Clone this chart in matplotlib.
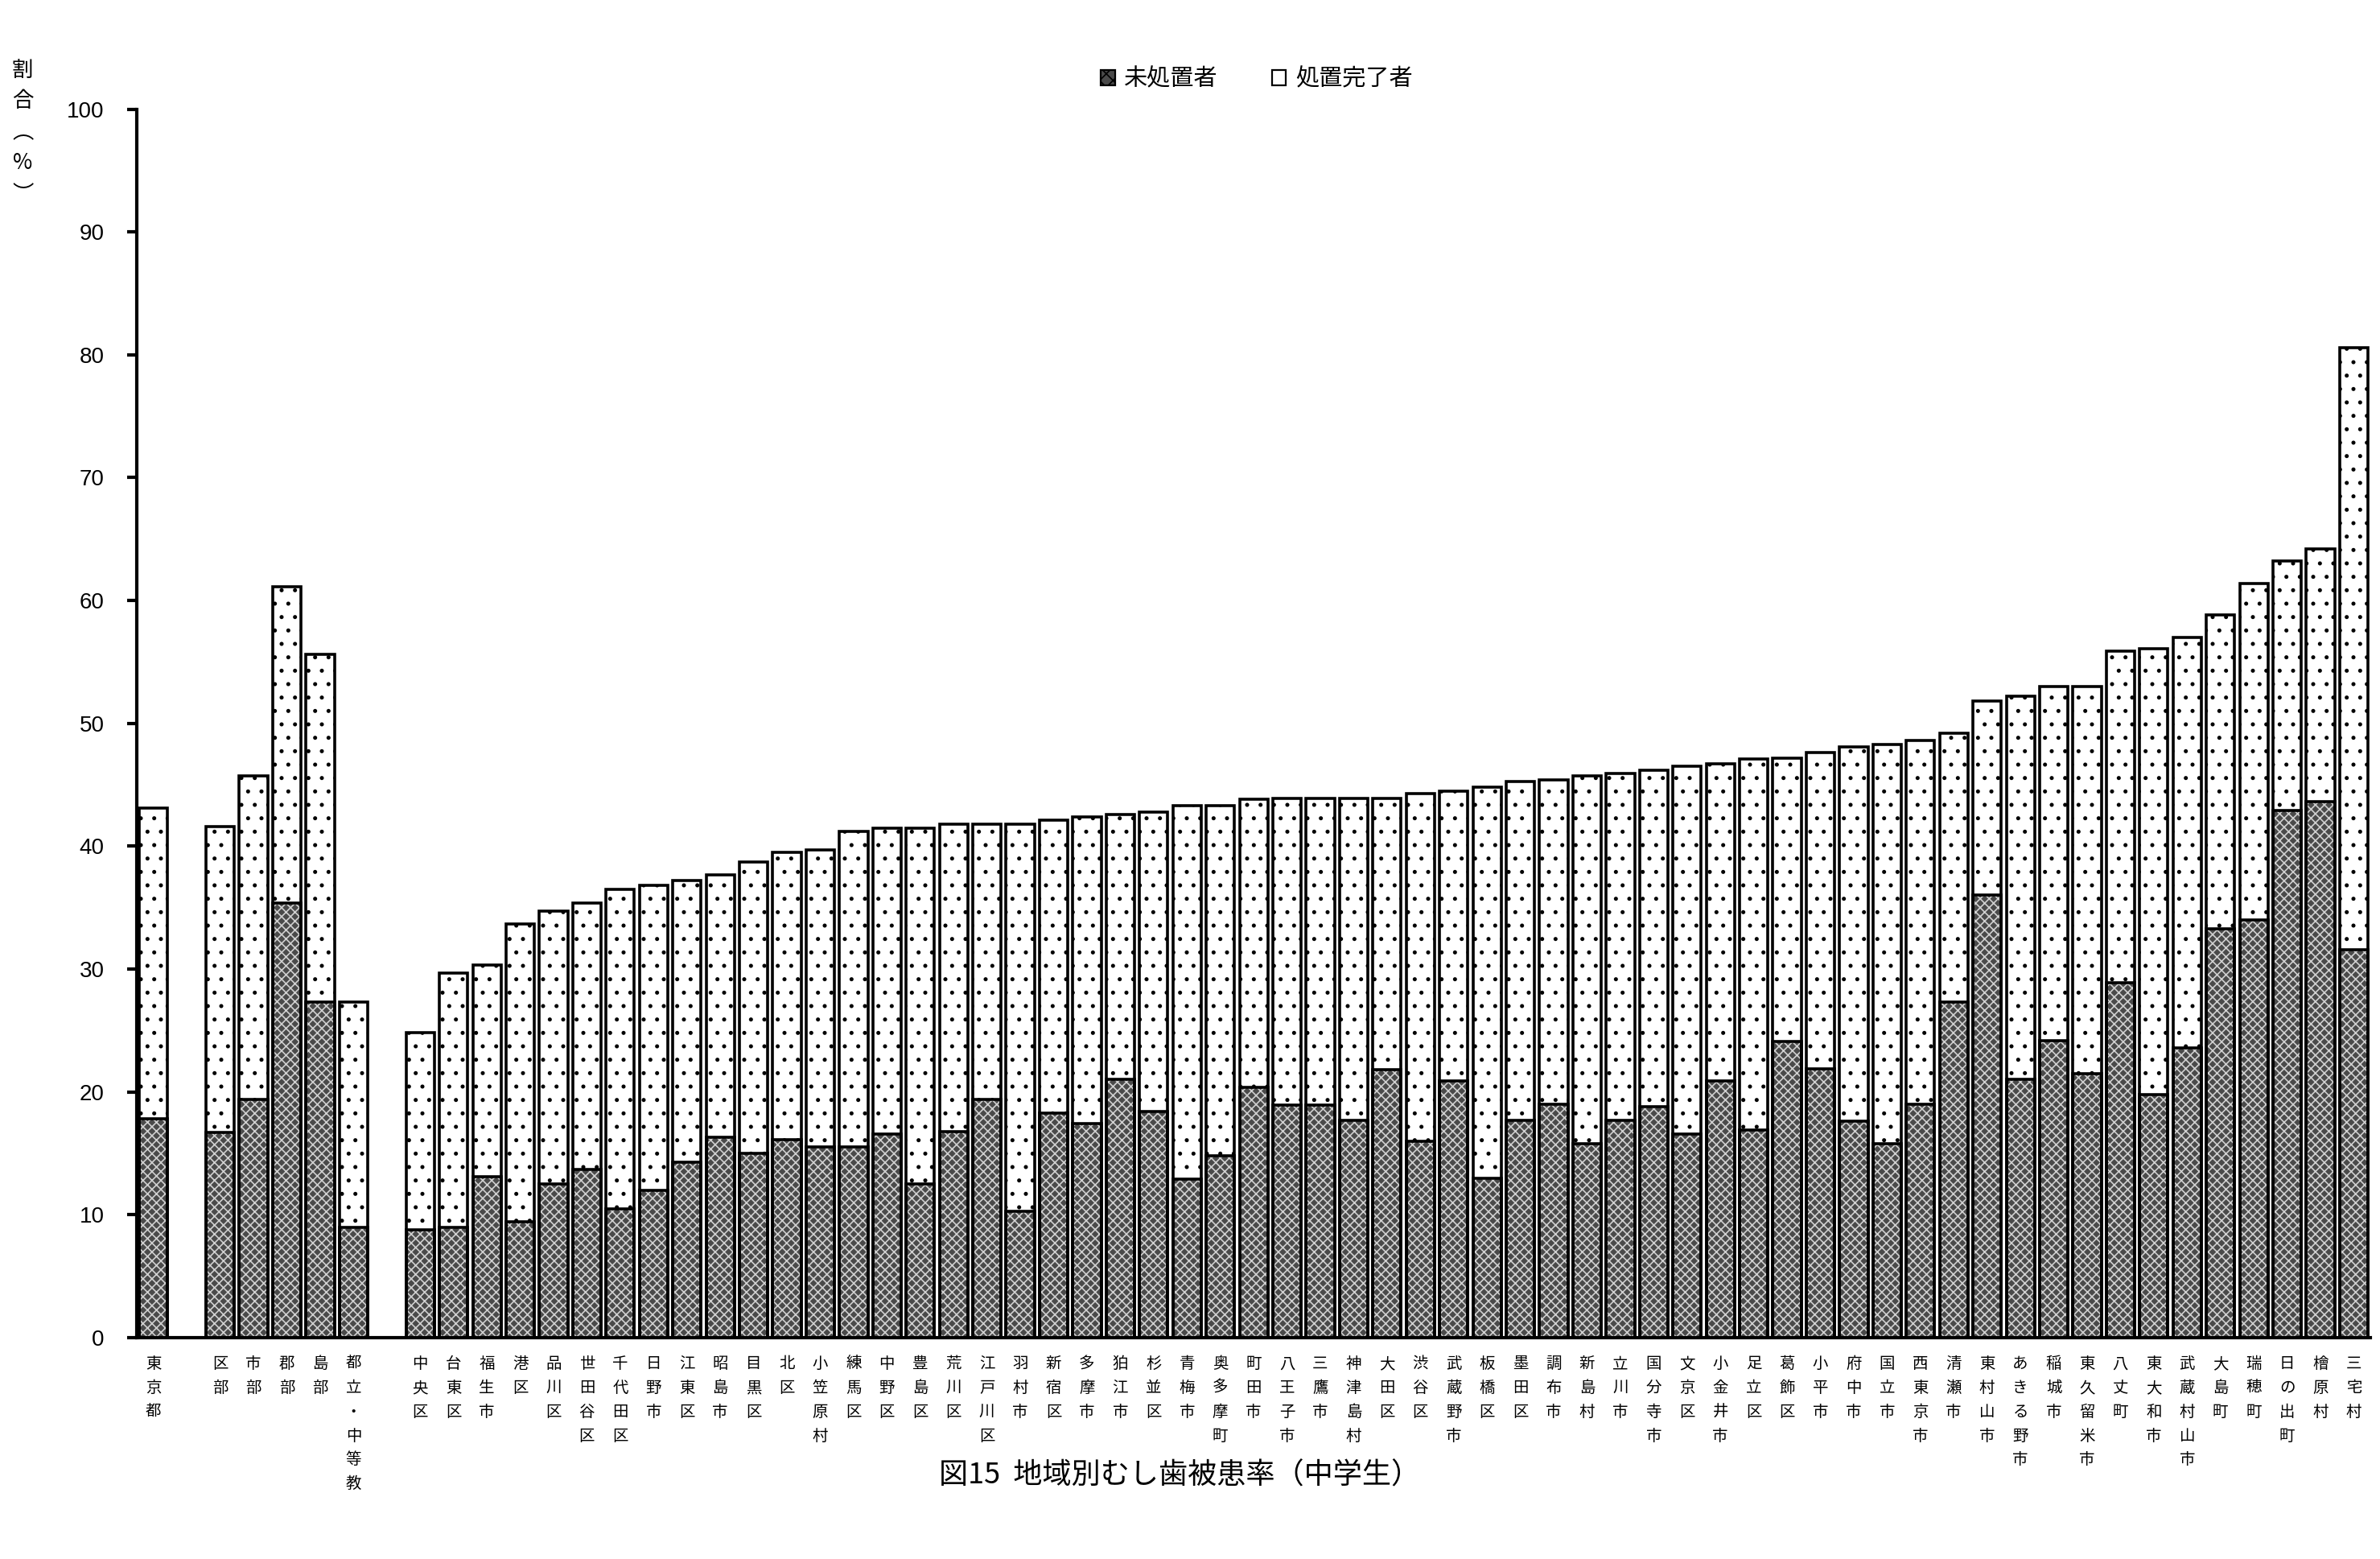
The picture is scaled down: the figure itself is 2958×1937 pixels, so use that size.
import numpy as np
import matplotlib.pyplot as plt
from matplotlib.patches import Patch

plt.rcParams['font.family'] = ['Noto Sans CJK JP', 'DejaVu Sans']
plt.rcParams['hatch.linewidth'] = 0.6

# data (割合 %)
summary_names = ['東京都', '区部', '市部', '郡部', '島部', '都立・中等教']
summary_untreated = [17.8, 16.7, 19.4, 35.4, 27.3, 9.0]
summary_total = [43.1, 41.6, 45.7, 61.1, 55.6, 27.3]

area_names = ['中央区', '台東区', '福生市', '港区', '品川区', '世田谷区', '千代田区', '日野市',
              '江東区', '昭島市', '目黒区', '北区', '小笠原村', '練馬区', '中野区', '豊島区',
              '荒川区', '江戸川区', '羽村市', '新宿区', '多摩市', '狛江市', '杉並区', '青梅市',
              '奥多摩町', '町田市', '八王子市', '三鷹市', '神津島村', '大田区', '渋谷区', '武蔵野市',
              '板橋区', '墨田区', '調布市', '新島村', '立川市', '国分寺市', '文京区', '小金井市',
              '足立区', '葛飾区', '小平市', '府中市', '国立市', '西東京市', '清瀬市', '東村山市',
              'あきる野市', '稲城市', '東久留米市', '八丈町', '東大和市', '武蔵村山市', '大島町',
              '瑞穂町', '日の出町', '檜原村', '三宅村']
area_untreated = [8.8, 9.0, 13.1, 9.4, 12.5, 13.7, 10.5, 12.0,
                  14.3, 16.3, 15.0, 16.1, 15.5, 15.5, 16.6, 12.5,
                  16.8, 19.4, 10.3, 18.3, 17.4, 21.0, 18.4, 12.9,
                  14.8, 20.4, 18.9, 18.9, 17.7, 21.8, 16.0, 20.9,
                  13.0, 17.7, 19.0, 15.8, 17.7, 18.8, 16.6, 20.9,
                  16.9, 24.1, 21.9, 17.6, 15.8, 19.0, 27.3, 36.0,
                  21.0, 24.2, 21.5, 28.9, 19.8, 23.6, 33.3,
                  34.0, 42.9, 43.6, 31.6]
area_total = [24.8, 29.7, 30.3, 33.7, 34.7, 35.4, 36.5, 36.8,
              37.2, 37.7, 38.7, 39.5, 39.7, 41.2, 41.5, 41.5,
              41.8, 41.8, 41.8, 42.1, 42.4, 42.6, 42.8, 43.3,
              43.3, 43.8, 43.9, 43.9, 43.9, 43.9, 44.3, 44.5,
              44.8, 45.3, 45.4, 45.7, 45.9, 46.2, 46.5, 46.7,
              47.1, 47.2, 47.6, 48.1, 48.3, 48.6, 49.2, 51.8,
              52.2, 53.0, 53.0, 55.9, 56.1, 57.0, 58.8,
              61.4, 63.2, 64.2, 80.6]

names = summary_names + area_names
untreated = np.array(summary_untreated + area_untreated)
total = np.array(summary_total + area_total)
treated = total - untreated

# positions: gap after 東京都 and after 都立・中等教
x = np.array([0] + list(range(2, 7)) + list(range(8, 8 + len(area_names))))

fig = plt.figure(figsize=(14.79, 9.685), dpi=200)
ax = fig.add_axes([0.0575, 0.142, 0.9385, 0.788])

w = 0.85
ax.bar(x, untreated, w, color='#4a4a4a', edgecolor='#d0d0d0', linewidth=0, hatch='xxxxxx')
ax.bar(x, treated, w, bottom=untreated, color='white', edgecolor='black', linewidth=0, hatch='..')
ax.bar(x, total, w, fill=False, edgecolor='black', linewidth=1.3)
ax.bar(x, untreated, w, fill=False, edgecolor='black', linewidth=1.3)

ax.set_ylim(0, 100)
ax.set_xlim(-0.5, x[-1] + 0.5)
ax.set_yticks(range(0, 101, 10))
ax.tick_params(axis='y', direction='out', length=4.5, width=1.5, pad=10, labelsize=10)
for lab in ax.get_yticklabels():
    lab.set_fontfamily('Liberation Sans')
ax.set_xticks(x)
ax.set_xticklabels(['\n'.join(n) for n in names], fontsize=7, linespacing=1.55, va='top')
ax.tick_params(axis='x', length=0, pad=8)
for s in ['top', 'right']:
    ax.spines[s].set_visible(False)
ax.spines['left'].set_linewidth(1.5)
ax.spines['bottom'].set_linewidth(1.5)

# y label stacked vertically
fig.text(0.0095, 0.962, '割\n合\n︵\n%\n︶', fontsize=9.5, va='top', ha='center', linespacing=1.55)

handles = [Patch(facecolor='#4a4a4a', edgecolor='black', hatch='xxxx', linewidth=0.8),
           Patch(facecolor='white', edgecolor='black', linewidth=0.8)]
fig.legend(handles, ['未処置者', '処置完了者'], loc='center', bbox_to_anchor=(0.528, 0.949),
           ncol=2, frameon=False, fontsize=10.5, handlelength=0.6, handleheight=0.6,
           columnspacing=2.3, handletextpad=0.4)

fig.text(0.4957, 0.0536, '図15  地域別むし歯被患率（中学生）', fontsize=13, ha='center', va='center')

fig.savefig('out.png', dpi=200)
